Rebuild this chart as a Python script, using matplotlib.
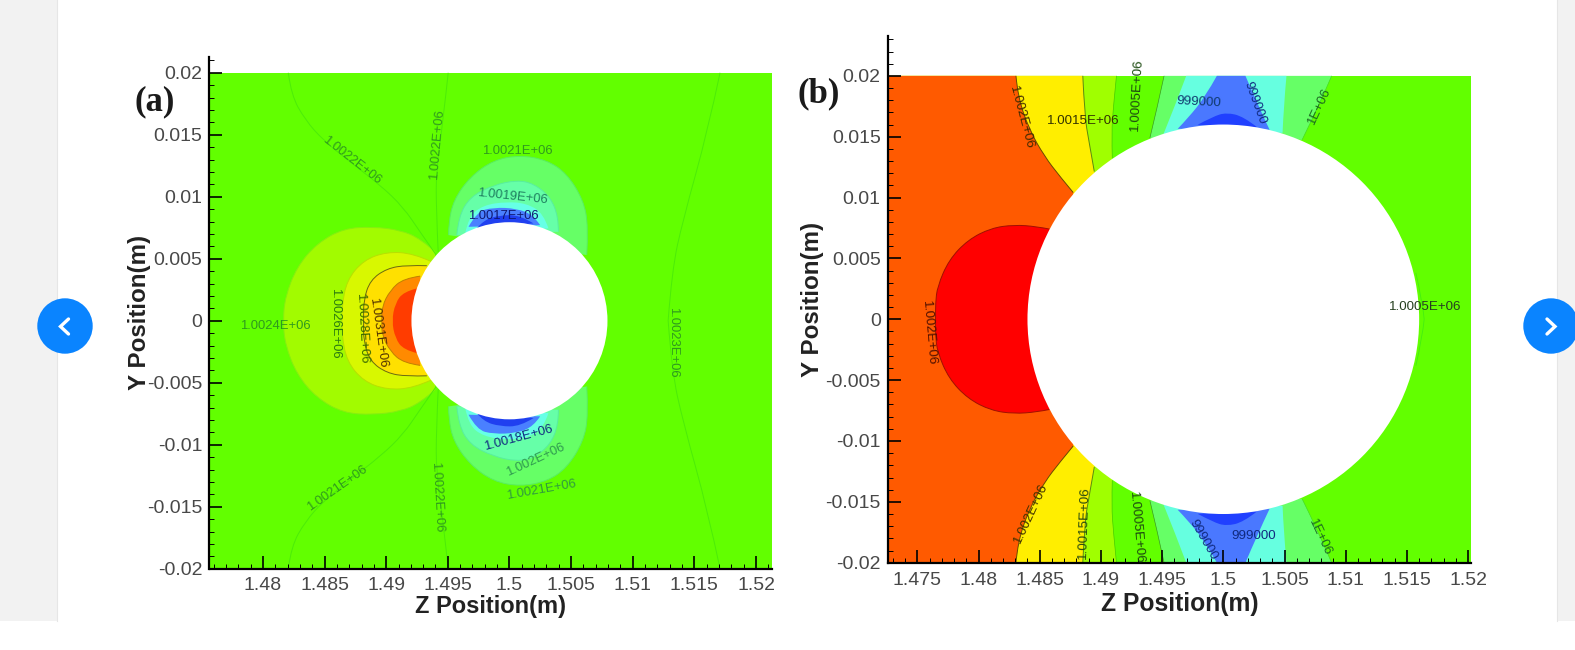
import matplotlib
matplotlib.use("Agg")
import matplotlib.pyplot as plt
from matplotlib.patches import Circle, PathPatch, Rectangle
from matplotlib.path import Path
from matplotlib.ticker import MultipleLocator

plt.rcParams['font.family'] = ['Liberation Sans', 'DejaVu Sans']

W, H = 1575, 650

x_ticks_a = [1.48, 1.485, 1.49, 1.495, 1.5, 1.505, 1.51, 1.515, 1.52]
x_labels_a = ['1.48', '1.485', '1.49', '1.495', '1.5', '1.505', '1.51', '1.515', '1.52']
x_ticks_b = [1.475] + x_ticks_a
x_labels_b = ['1.475'] + x_labels_a
y_ticks = [-0.02, -0.015, -0.01, -0.005, 0, 0.005, 0.01, 0.015, 0.02]
y_labels = ['-0.02', '-0.015', '-0.01', '-0.005', '0', '0.005', '0.01', '0.015', '0.02']

# Contours, upper half, (z, y) in metres
a_radius = 0.00795
a_lime_z = [1.49398, 1.49276, 1.49114, 1.48898, 1.48654, 1.48438, 1.48276, 1.48181, 1.48163]
a_lime_y = [0.00556, 0.00664, 0.00731, 0.00758, 0.00745, 0.00624, 0.00435, 0.00194, 0]
a_pale_z = [1.4937, 1.49222, 1.49006, 1.48817, 1.48681, 1.48641, 1.48641]
a_pale_y = [0.00476, 0.00543, 0.00556, 0.00489, 0.00328, 0.00113, 0]
a_yellow_z = [1.4933, 1.49168, 1.49006, 1.48871, 1.48817, 1.48817]
a_yellow_y = [0.00444, 0.00449, 0.00422, 0.00328, 0.00167, 0]
a_orange_z = [1.49276, 1.49141, 1.49033, 1.48965, 1.48965]
a_orange_y = [0.0036, 0.00341, 0.00247, 0.00113, 0]
a_red_z = [1.49249, 1.49141, 1.49073, 1.49046]
a_red_y = [0.00261, 0.00234, 0.0014, 0]
a_mint_z = [1.50627, 1.5064, 1.506, 1.50465, 1.50303, 1.50086, 1.4987, 1.49681, 1.49546, 1.49506, 1.49506]
a_mint_y = [0.0053, 0.00758, 0.00973, 0.01188, 0.01296, 0.01336, 0.01296, 0.01161, 0.00973, 0.00785, 0.00691]
a_aqua_z = [1.50397, 1.50397, 1.5033, 1.50195, 1.50059, 1.4987, 1.49681, 1.49587, 1.49573]
a_aqua_y = [0.00718, 0.00839, 0.01, 0.01107, 0.01134, 0.01094, 0.01, 0.00839, 0.00691]
a_cyan_z = [1.50316, 1.50276, 1.5014, 1.49978, 1.49789, 1.49668, 1.49641]
a_cyan_y = [0.00745, 0.00866, 0.00946, 0.0096, 0.00933, 0.00839, 0.00704]
a_blue_z = [1.50249, 1.50195, 1.50059, 1.4987, 1.49735, 1.49668]
a_blue_y = [0.00771, 0.00852, 0.00906, 0.00914, 0.00879, 0.00758]
a_navy_z = [1.50195, 1.50086, 1.49924, 1.49789, 1.49735]
a_navy_y = [0.00785, 0.00852, 0.00852, 0.00812, 0.00745]
a_line1_z = [1.48206, 1.4823, 1.48344, 1.48489, 1.48708, 1.48952, 1.49138, 1.49276, 1.49406]
a_line1_y = [0.02, 0.0182, 0.01619, 0.01457, 0.0128, 0.01094, 0.00917, 0.00715, 0.0053]
a_line2_z = [1.49503, 1.49462, 1.49406, 1.49406, 1.49422]
a_line2_y = [0.02, 0.01619, 0.01215, 0.00893, 0.00554]
a_line3_z = [1.51708, 1.5161, 1.51407, 1.51318, 1.51287]
a_line3_y = [0.02, 0.01538, 0.00812, 0.00409, 0]

# Contours, upper half
b_radius = 0.016
b_a_z = [1.48306, 1.48321, 1.48415, 1.4854, 1.48665, 1.48774]
b_a_y = [0.02, 0.0183, 0.01557, 0.01337, 0.01173, 0.01041]
b_b_z = [1.48852, 1.48868, 1.489, 1.48946]
b_b_y = [0.02, 0.01666, 0.01475, 0.01214]
b_c_z = [1.49127, 1.49102, 1.49087, 1.49093]
b_c_y = [0.02, 0.01748, 0.01532, 0.01324]
b_d_z = [1.49516, 1.49462, 1.494]
b_d_y = [0.02, 0.01748, 0.01489]
b_e_z = [1.49697, 1.49603, 1.49509]
b_e_y = [0.02, 0.01748, 0.01516]
b_f_z = [1.49947, 1.49853, 1.49712, 1.49627]
b_f_y = [0.02, 0.0183, 0.01653, 0.01565]
b_g_z = [1.50181, 1.50275, 1.50378]
b_g_y = [0.02, 0.01776, 0.01557]
b_h_z = [1.50516, 1.50493, 1.50484]
b_h_y = [0.02, 0.01748, 0.01532]
b_i_z = [1.50885, 1.50791, 1.50644]
b_i_y = [0.02, 0.01776, 0.01475]
b_navy_z = [1.4979, 1.49916, 1.50025, 1.50165, 1.50275]
b_navy_y = [0.01598, 0.01666, 0.01699, 0.01666, 0.01579]
b_red_z = [1.4858, 1.48477, 1.48289, 1.48102, 1.47914, 1.47758, 1.47664, 1.47649, 1.47649]
b_red_y = [0.00741, 0.00762, 0.00776, 0.00749, 0.00653, 0.00488, 0.00269, 0.00132, 0]
b_arc_z = [1.51573, 1.51629, 1.51641]
b_arc_y = [0.00381, 0.00135, 0]

a_texts = ['1.0022E+06', '1.0022E+06', '1.0021E+06', '1.0019E+06', '1.0017E+06', '1.0024E+06',
           '1.0026E+06', '1.0028E+06', '1.0031E+06', '1.0018E+06', '1.002E+06', '1.0021E+06',
           '1.0021E+06', '1.0022E+06', '1.0023E+06']
a_text_px = [(352, 160), (437, 145), (517, 151), (512, 197), (503, 216), (275, 326), (335, 323),
             (362, 328), (378, 333), (518, 438), (535, 460), (541, 490), (337, 488), (437, 497),
             (673, 342)]
a_text_rot = [-38, 85, 0, -6, 0, 0, -90, -87, -82, 15, 25, 10, 35, -87, -90]
a_text_col = ['#2f9a1e', '#2f9a1e', '#2f9a1e', '#1f8060', '#101870', '#2f9a1e', '#2a7a10', '#3a6a00',
              '#503000', '#102a80', '#2f9a50', '#2f9a40', '#2f9a1e', '#2f9a1e', '#2f9a1e']

b_texts = ['1.002E+06', '1.0015E+06', '1.0005E+06', '999000', '999000', '1E+06', '1.0005E+06',
           '1.002E+06', '1.002E+06', '1.0015E+06', '1.0005E+06', '999000', '999000', '1E+06']
b_text_px = [(1021, 118), (1083, 121), (1137, 95), (1199, 102), (1255, 103), (1320, 106), (1425, 307),
             (929, 333), (1031, 513), (1084, 523), (1136, 528), (1203, 540), (1254, 536), (1320, 537)]
b_text_rot = [-75, 0, 87, -3, -70, 65, 0, -85, 65, 88, -85, -60, 0, -65]
b_text_col = ['#402a00', '#333300', '#1c4a10', '#103a70', '#102a80', '#1c6a20', '#264020',
              '#501000', '#403000', '#284a10', '#1c4a10', '#102a80', '#102a80', '#1c6a20']


def flip(z, y):
    return z[::-1], [-v for v in y[::-1]]


def curve(z, y):
    verts = [(z[0], y[0])]
    codes = [Path.MOVETO]
    if len(z) == 1:
        return verts, codes
    if len(z) == 2:
        return verts + [(z[1], y[1])], codes + [Path.LINETO]
    for i in range(1, len(z) - 1):
        if i < len(z) - 2:
            end = ((z[i] + z[i + 1]) / 2, (y[i] + y[i + 1]) / 2)
        else:
            end = (z[i + 1], y[i + 1])
        verts += [(z[i], y[i]), end]
        codes += [Path.CURVE3, Path.CURVE3]
    return verts, codes


def region(ax, segments, color, zorder=2):
    verts, codes = [], []
    for z, y in segments:
        v, c = curve(z, y)
        if verts:
            c = [Path.LINETO] + c[1:]
        verts += v
        codes += c
    verts.append(verts[0])
    codes.append(Path.CLOSEPOLY)
    ax.add_patch(PathPatch(Path(verts, codes), fc=color, ec='none', zorder=zorder))


def line(ax, z, y, color, lw=0.7):
    v, c = curve(z, y)
    ax.add_patch(PathPatch(Path(v, c), fill=False, ec=color, lw=lw, zorder=2.2))


def both(ax, z, y, color, lw=0.7):
    line(ax, z, y, color, lw)
    line(ax, *flip(z, y), color, lw)


def lobe(ax, z, y, color, edge=None):
    # lobe whose outline crosses y=0 on the left of the cylinder
    zz = z + z[-2::-1]
    yy = y + [-v for v in y[-2::-1]]
    region(ax, [(zz, yy)], color)
    if edge:
        line(ax, zz, yy, edge)


def cap(ax, z, y, color, edge=None):
    # same shape above and below the cylinder
    region(ax, [(z, y)], color)
    region(ax, [flip(z, y)], color)
    if edge:
        both(ax, z, y, edge)


def band(ax, z1, y1, z2, y2, color):
    region(ax, [(z1, y1), (z2[::-1], y2[::-1])], color)
    region(ax, [(z1, [-v for v in y1]), (z2[::-1], [-v for v in y2[::-1]])], color)


def left_of(ax, z, y, color, xmin):
    region(ax, [([xmin], [0.02]), (z, y), flip(z, y), ([xmin], [-0.02])], color)


def make_axes(px_left, px_right, px_top, px_bottom, xlim, ylim, xt, xl, pad_x, pad_y, xlabel_pad, ylabel_pad, xlabel_size):
    ax = fig.add_axes([px_left / W, 1 - px_bottom / H, (px_right - px_left) / W, (px_bottom - px_top) / H])
    ax.set_xlim(*xlim)
    ax.set_ylim(*ylim)
    ax.patch.set_alpha(0)
    ax.set_axisbelow(False)
    ax.set_xticks(xt, xl)
    ax.set_yticks(y_ticks, y_labels)
    ax.xaxis.set_minor_locator(MultipleLocator(0.001))
    ax.yaxis.set_minor_locator(MultipleLocator(0.001))
    ax.tick_params(which='major', direction='in', length=9.4, width=1.2, labelsize=14,
                   labelcolor='#484848')
    ax.tick_params(which='minor', direction='in', length=3.4, width=0.7)
    ax.tick_params(axis='x', which='major', pad=pad_x)
    ax.tick_params(axis='y', which='major', pad=pad_y)
    ax.spines['top'].set_visible(False)
    ax.spines['right'].set_visible(False)
    ax.spines['left'].set_linewidth(1.6)
    ax.spines['bottom'].set_linewidth(1.6)
    ax.set_xlabel('Z Position(m)', fontsize=xlabel_size, fontweight='bold', color='#222222', labelpad=xlabel_pad)
    ax.set_ylabel('Y Position(m)', fontsize=17.4, fontweight='bold', color='#222222', labelpad=ylabel_pad)
    return ax


fig = plt.figure(figsize=(W / 100, H / 100), dpi=100, facecolor='white')

page = fig.add_axes([0, 0, 1, 1], zorder=-1)
page.set_xlim(0, W)
page.set_ylim(H, 0)
page.axis('off')
page.add_patch(Rectangle((0, 0), 57, 621, fc='#f2f2f2', ec='none', zorder=1))
page.add_patch(Rectangle((1557, 0), 18, 621, fc='#f2f2f2', ec='none', zorder=1))
page.plot([57, 57], [0, 621], color='#e6e6e6', lw=0.8, zorder=1.5)
page.plot([1557, 1557], [0, 621], color='#e6e6e6', lw=0.8, zorder=1.5)
page.add_patch(Circle((65, 326), 27.7, fc='#0a84ff', ec='none', zorder=3))
page.add_patch(Circle((1551, 326), 27.7, fc='#0a84ff', ec='none', zorder=3))
page.plot([68.5, 60.5, 68.5], [319, 326.5, 334], color='white', lw=2.4, solid_capstyle='round', solid_joinstyle='miter', zorder=4)
page.plot([1547, 1555, 1547], [319, 326.5, 334], color='white', lw=2.4, solid_capstyle='round', solid_joinstyle='miter', zorder=4)

# Panel (a)
ax_a = make_axes(209.5, 771.7, 56.7, 568.7, (1.47567, 1.52127), (-0.02, 0.0213), x_ticks_a, x_labels_a, 6, 5, 1, -2.5, 17)
xa = ax_a.get_xlim()
ax_a.fill([xa[0], xa[1], xa[1], xa[0]], [-0.02, -0.02, 0.02, 0.02], color='#62ff00', lw=0, zorder=1)
lobe(ax_a, a_lime_z, a_lime_y, '#a2fb00', '#86ee10')
lobe(ax_a, a_pale_z, a_pale_y, '#d8f800', '#b8e000')
lobe(ax_a, a_yellow_z, a_yellow_y, '#ffe000', '#6a6a10')
lobe(ax_a, a_orange_z, a_orange_y, '#ff8a00', '#c08000')
lobe(ax_a, a_red_z, a_red_y, '#ff3c00')
cap(ax_a, a_mint_z, a_mint_y, '#66ff66', '#58ee60')
cap(ax_a, a_aqua_z, a_aqua_y, '#66ffa8', '#58eea0')
cap(ax_a, a_cyan_z, a_cyan_y, '#66ffe6')
cap(ax_a, a_blue_z, a_blue_y, '#4a80ff')
cap(ax_a, a_navy_z, a_navy_y, '#2040f0')
both(ax_a, a_line1_z, a_line1_y, '#4cec08')
both(ax_a, a_line2_z, a_line2_y, '#4cec08')
both(ax_a, a_line3_z, a_line3_y, '#4cec08')
ax_a.add_patch(Circle((1.5, 0), a_radius, fc='white', ec='none', zorder=5))

# Panel (b)
ax_b = make_axes(888.3, 1471.3, 35.7, 562.7, (1.47263, 1.52026), (-0.02, 0.0233), x_ticks_b, x_labels_b, 7, 5.5, 1.5, 1, 17.7)
xb = ax_b.get_xlim()
ax_b.fill([xb[0], xb[1], xb[1], xb[0]], [-0.02, -0.02, 0.02, 0.02], color='#62ff00', lw=0, zorder=1)
left_of(ax_b, b_c_z, b_c_y, '#a0ff00', xb[0])
left_of(ax_b, b_b_z, b_b_y, '#ffee00', xb[0])
left_of(ax_b, b_a_z, b_a_y, '#ff5a00', xb[0])
band(ax_b, b_d_z, b_d_y, b_i_z, b_i_y, '#66ff66')
band(ax_b, b_e_z, b_e_y, b_h_z, b_h_y, '#66ffe0')
band(ax_b, b_f_z, b_f_y, b_g_z, b_g_y, '#4a78ff')
cap(ax_b, b_navy_z, b_navy_y, '#2040ff')
lobe(ax_b, b_red_z, b_red_y, '#ff0000', '#a01000')
both(ax_b, b_a_z, b_a_y, '#6a4a00')
both(ax_b, b_b_z, b_b_y, '#5a8a10')
both(ax_b, b_c_z, b_c_y, '#44cc00', 0.5)
both(ax_b, b_d_z, b_d_y, '#3a9a20', 0.5)
both(ax_b, b_i_z, b_i_y, '#44dd20', 0.5)
both(ax_b, b_arc_z, b_arc_y, '#44ee10', 0.6)
ax_b.add_patch(Circle((1.5, 0), b_radius, fc='white', ec='none', zorder=5))

# Overlay in pixels for the contour labels and panel letters
over = fig.add_axes([0, 0, 1, 1], zorder=5)
over.set_xlim(0, W)
over.set_ylim(H, 0)
over.axis('off')
for t, (px, py), r, c in zip(a_texts, a_text_px, a_text_rot, a_text_col):
    over.text(px, py, t, rotation=r, color=c, fontsize=9.4, ha='center', va='center', rotation_mode='anchor')
for t, (px, py), r, c in zip(b_texts, b_text_px, b_text_rot, b_text_col):
    over.text(px, py, t, rotation=r, color=c, fontsize=9.6, ha='center', va='center', rotation_mode='anchor')
over.text(155, 102, '(a)', family='Liberation Serif', fontweight='bold', fontsize=25, color='#1a1a1a', ha='center', va='center')
over.text(819, 94, '(b)', family='Liberation Serif', fontweight='bold', fontsize=25, color='#1a1a1a', ha='center', va='center')

fig.savefig('out.png', dpi=100)
